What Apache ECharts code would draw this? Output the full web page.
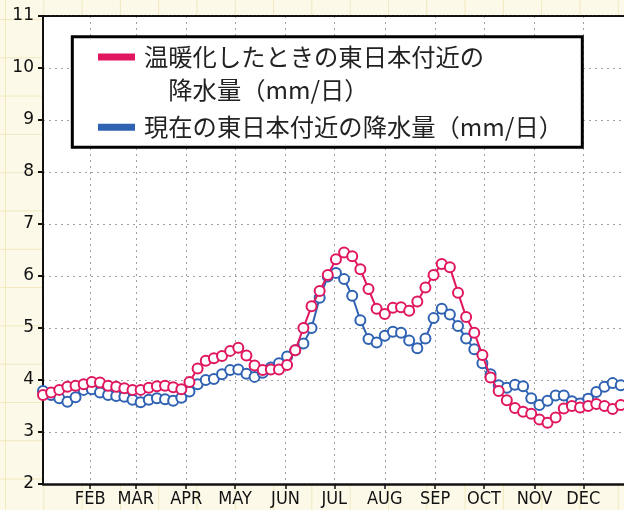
<!DOCTYPE html>
<html><head><meta charset="utf-8">
<script src="https://cdn.jsdelivr.net/npm/echarts@6/dist/echarts.min.js"></script>
<style>
html,body{margin:0;padding:0;}
body{width:624px;height:510px;overflow:hidden;background-color:#fcf9e9;
background-image:linear-gradient(to right,#f1e8bd 1px,transparent 1px),linear-gradient(to bottom,#f1e8bd 1px,transparent 1px);
background-size:38.3px 38.3px;background-position:5px 19px;}
#chart{width:624px;height:510px;}
</style></head><body><div id="chart"></div>
<script>
const monthLabels = ['FEB','MAR','APR','MAY','JUN','JUL','AUG','SEP','OCT','NOV','DEC'];
const monthStartDays = [31,59,90,120,151,181,212,243,273,304,334];
const pentadCenterDays = [2,7,12,17,22,27,32,37,42,47,52,57,62,67,72,77,82,87,92,97,102,107,112,117,122,127,132,137,142,147,152,157,162,167,172,177,182,187,192,197,202,207,212,217,222,227,232,237,242,247,252,257,262,267,272,277,282,287,292,297,302,307,312,317,322,327,332,337,342,347,352,357];
const warmName = '温暖化したときの東日本付近の\n\u3000降水量（mm/日）';
const nowName = '現在の東日本付近の降水量（mm/日）';
const warmValues = [3.71,3.76,3.81,3.87,3.89,3.92,3.96,3.95,3.89,3.87,
3.84,3.81,3.81,3.85,3.88,3.89,3.86,3.82,3.96,4.22,
4.37,4.42,4.46,4.56,4.62,4.47,4.28,4.19,4.20,4.20,
4.29,4.57,5.00,5.42,5.71,6.02,6.32,6.45,6.38,6.13,
5.75,5.37,5.27,5.39,5.40,5.33,5.51,5.78,6.02,6.23,
6.17,5.68,5.21,4.91,4.48,4.05,3.79,3.61,3.46,3.39,
3.35,3.24,3.18,3.28,3.45,3.50,3.47,3.50,3.54,3.50,
3.44,3.52];
const nowValues = [3.79,3.71,3.65,3.58,3.67,3.81,3.82,3.76,3.71,3.69,
3.68,3.62,3.57,3.62,3.65,3.63,3.60,3.66,3.78,3.92,
4.00,4.02,4.11,4.19,4.20,4.12,4.06,4.14,4.24,4.32,
4.45,4.57,4.70,5.00,5.58,5.99,6.06,5.94,5.62,5.15,
4.79,4.72,4.85,4.93,4.91,4.76,4.61,4.80,5.19,5.37,
5.26,5.04,4.80,4.59,4.32,4.11,3.90,3.85,3.91,3.88,
3.65,3.52,3.60,3.70,3.70,3.59,3.55,3.64,3.77,3.87,
3.94,3.90];

const RED = '#e0175f', BLUE = '#2f62b3';
const cjk = '"Noto Sans CJK JP","Noto Sans",sans-serif';
const chart = echarts.init(document.getElementById('chart'), null, {renderer:'canvas'});
const pairs = (vals) => pentadCenterDays.map((d,i)=>[d, vals[i]]);
const dotted = {type:[2,4], color:'#a0a0a0', width:1};
const legendCommon = {orient:'vertical', left:98, itemWidth:37, padding:0, selectedMode:false, z:5};
chart.setOption({
  animation:false,
  backgroundColor:'transparent',
  grid:{left:43, right:0, top:16, bottom:26, show:true, backgroundColor:'#ffffff', borderWidth:0},
  xAxis:[{
    type:'value', min:2, max:359, position:'bottom',
    axisLine:{show:true, onZero:false, lineStyle:{color:'#111', width:2.5, type:[3,1.2]}},
    axisTick:{show:true, customValues:monthStartDays, length:5, inside:false, lineStyle:{color:'#111', width:1.5}},
    axisLabel:{show:true, customValues:monthStartDays, margin:6, color:'#111', fontSize:18,
      fontFamily:'"DejaVu Sans Condensed","DejaVu Sans",sans-serif',
      formatter:(v)=>{const i=monthStartDays.indexOf(v); return i>=0?monthLabels[i]:'';}},
    splitLine:{show:true, customValues:monthStartDays, lineStyle:dotted}
  },{
    type:'value', min:2, max:359, position:'top',
    axisLine:{show:true, onZero:false, lineStyle:{color:'#111', width:2, type:[3,1.2]}},
    axisTick:{show:false}, axisLabel:{show:false}, splitLine:{show:false}
  }],
  yAxis:{
    type:'value', min:2, max:11, interval:1,
    axisLine:{show:true, onZero:false, lineStyle:{color:'#111', width:2}},
    axisTick:{show:true, length:5, lineStyle:{color:'#111', width:2}},
    axisLabel:{show:true, margin:9, color:'#111', fontSize:17, fontFamily:'"DejaVu Sans",sans-serif',
      showMinLabel:true, showMaxLabel:true},
    splitLine:{show:true, lineStyle:dotted}
  },
  graphic:[{type:'rect', z:3, shape:{x:72.3, y:36.7, width:510, height:110.6},
    style:{fill:'#ffffff', stroke:'#000', lineWidth:3}}],
  legend:[Object.assign({}, legendCommon, {
    top:40.5, itemHeight:66,
    textStyle:{fontSize:24.3, lineHeight:33, color:'#222', fontFamily:cjk, padding:[0,0,0,4]},
    data:[{name:warmName, icon:'path://M0 0H37V0H0Z M0 13H37V20H0Z M0 66H37V66H0Z',
      itemStyle:{color:RED, borderWidth:0}}]
  }), Object.assign({}, legendCommon, {
    top:115, itemHeight:7,
    textStyle:{fontSize:24.3, lineHeight:24, color:'#222', fontFamily:cjk, padding:[0,0,0,4]},
    data:[{name:nowName, icon:'rect', itemStyle:{color:BLUE, borderWidth:0}}]
  })],
  series:[{
    name:nowName, type:'line', data:pairs(nowValues), color:BLUE, clip:false,
    symbol:'circle', symbolSize:10, showSymbol:true, z:2,
    lineStyle:{width:2, color:BLUE}, itemStyle:{color:'#fff', borderColor:BLUE, borderWidth:2}
  },{
    name:warmName, type:'line', data:pairs(warmValues), color:RED, clip:false,
    symbol:'circle', symbolSize:10, showSymbol:true, z:3,
    lineStyle:{width:2, color:RED}, itemStyle:{color:'#fff', borderColor:RED, borderWidth:2}
  }]
});
</script></body></html>
